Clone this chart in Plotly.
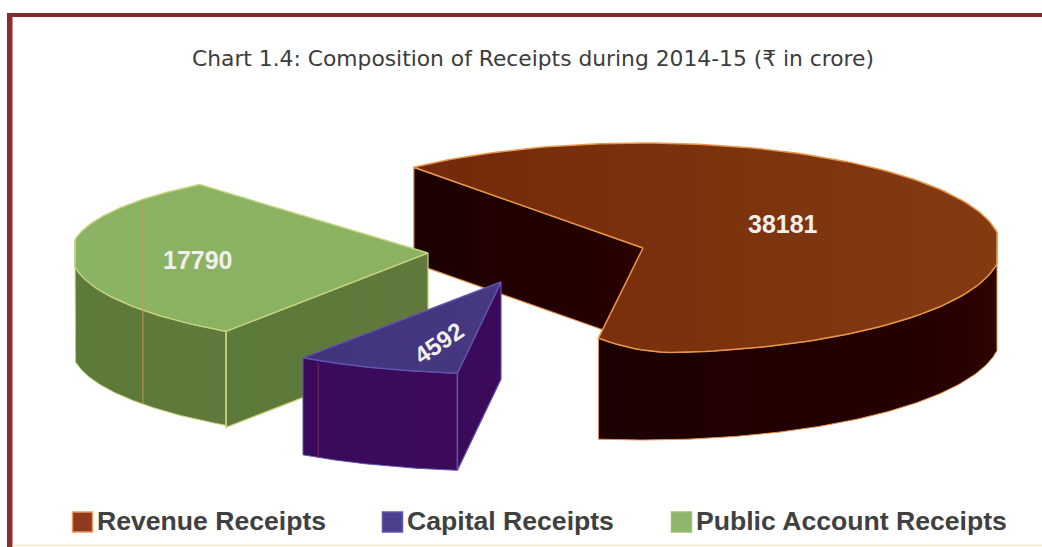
import numpy as np
import plotly.graph_objects as go

# Receipts during 2014-15, in crore of rupees
categories = ["Revenue Receipts", "Capital Receipts", "Public Account Receipts"]
values = [38181, 4592, 17790]

TITLE = "Chart 1.4: Composition of Receipts during 2014-15 (₹ in crore)"
WIDTH, HEIGHT = 1042, 547
FIRST_ANGLE = 129.8  # where the first slice starts, degrees, running clockwise

# Drawing geometry of each exploded slice, in pixel-like axis units
GEOMETRY = {
    "Revenue Receipts": dict(cx=643, cy=248, rx=358, ry_up=105, ry_down=105, wall=96, rim=87,
                             xmin=0, xmax=997, sag=0.135, sag_span=13),
    "Capital Receipts": dict(cx=501, cy=282, rx=350, ry_up=92, ry_down=92, wall=97, rim=97,
                             xmin=0, xmax=2000, sag=0, sag_span=1),
    "Public Account Receipts": dict(cx=428, cy=253, rx=357, ry_up=89, ry_down=95, wall=96, rim=94,
                                    xmin=75, xmax=2000, sag=0, sag_span=1),
}
STYLE = {
    "Revenue Receipts": dict(top=[[0, "#742a0a"], [1, "#843a11"]], wall=[[0, "#1c0000"], [0.9, "#270000"], [1, "#300500"]],
                             edge="#e8964c", swatch="#8f3a1e", swatch_edge="#e59a5a"),
    "Capital Receipts": dict(top=[[0, "#41337f"], [1, "#47397f"]], wall=[[0, "#3a0a5c"], [1, "#3c0a58"]],
                             edge="#5f54ad", swatch="#4e3f8e", swatch_edge="#5f54ad"),
    "Public Account Receipts": dict(top=[[0, "#8ab363"], [1, "#8cb162"]], wall=[[0, "#5c7a39"], [1, "#60793c"]],
                                    edge="#c5d27c", swatch="#8fb56a", swatch_edge="#9dbf78"),
}
LABEL_SPOTS = {
    "Revenue Receipts": dict(x=783, y=224, angle=0, size=25),
    "Capital Receipts": dict(x=438, y=343, angle=-34, size=24),
    "Public Account Receipts": dict(x=198, y=260, angle=0, size=25),
}
LEGEND_SPOTS = {
    "Revenue Receipts": (82.5, 97),
    "Capital Receipts": (392.5, 407),
    "Public Account Receipts": (681.5, 696),
}

# Angular extent of every slice follows from its share of the total
total = sum(values)
spans = {}
start = FIRST_ANGLE
for name, value in zip(categories, values):
    end = start - value / total * 360
    spans[name] = (start, end)
    start = end


def arc(g, t0, t1, drop=0.0, sag=True):
    """Points of a slice rim from angle t0 to t1, lowered by drop."""
    t = np.linspace(t0, t1, 160)
    rad = np.radians(t)
    s = np.sin(rad)
    ry = np.where(s > 0, g["ry_up"], g["ry_down"])
    if sag and g["sag"]:
        frac = np.clip((min(t0, t1) + g["sag_span"] - t) / g["sag_span"], 0, 1)
        ry = ry * (1 - g["sag"] * frac ** 2)
    x = np.clip(g["cx"] + g["rx"] * np.cos(rad), g["xmin"], g["xmax"])
    y = g["cy"] - ry * s + drop
    return x, y


def polygon(fig, x, y, colorscale, edge, width=1.2):
    fig.add_trace(go.Scatter(
        x=list(x) + [x[0]], y=list(y) + [y[0]], mode="lines", fill="toself",
        fillgradient=dict(type="horizontal", colorscale=colorscale),
        line=dict(color=edge, width=width), hoverinfo="skip", showlegend=False,
    ))


def draw_slice(fig, name, wall_range, cut_angles):
    g = GEOMETRY[name]
    st = STYLE[name]
    t0, t1 = spans[name]
    # Straight walls from the centre out to a cut edge
    for angle in cut_angles:
        ax, ay = arc(g, angle, angle, sag=False)
        px, py = float(ax[0]), float(ay[0])
        polygon(fig, [g["cx"], px, px, g["cx"]],
                [g["cy"], py, py + g["wall"], g["cy"] + g["wall"]], st["wall"], st["edge"])
    # Curved outer wall
    tx, ty = arc(g, wall_range[0], wall_range[1], sag=True)
    bx, by = arc(g, wall_range[0], wall_range[1], drop=g["rim"], sag=False)
    polygon(fig, np.r_[tx, bx[::-1]], np.r_[ty, by[::-1]], st["wall"], st["edge"], 1)
    # Top face
    fx, fy = arc(g, t0, t1)
    polygon(fig, np.r_[g["cx"], fx], np.r_[g["cy"], fy], st["top"], st["edge"], 1.5)


fig = go.Figure()

rev_s, rev_e = spans["Revenue Receipts"]
cap_s, cap_e = spans["Capital Receipts"]
pub_s, pub_e = spans["Public Account Receipts"]

draw_slice(fig, "Revenue Receipts", (8, rev_e), [rev_s])
draw_slice(fig, "Public Account Receipts", (pub_s, -188), [pub_s])

# Seam running over the public account slice and down its wall
seam = GEOMETRY["Public Account Receipts"]
seam_x = float(arc(seam, -143, -143)[0][0])
seam_top = float(arc(seam, 143, 143)[1][0])
seam_low = float(arc(seam, -143, -143, drop=seam["rim"])[1][0])
fig.add_trace(go.Scatter(x=[seam_x, seam_x], y=[seam_top, seam_low], mode="lines",
                         line=dict(color="#c49a5a", width=1), hoverinfo="skip", showlegend=False))

draw_slice(fig, "Capital Receipts", (cap_s, cap_e), [cap_s])

# Seam on the capital slice wall
cap = GEOMETRY["Capital Receipts"]
cap_seam = cap_e + 3
cx0 = float(arc(cap, cap_seam, cap_seam)[0][0])
cy0 = float(arc(cap, cap_seam, cap_seam)[1][0])
fig.add_trace(go.Scatter(x=[cx0, cx0], y=[cy0 + 2, cy0 + cap["rim"]], mode="lines",
                         line=dict(color="#6b1e5e", width=1.5), hoverinfo="skip", showlegend=False))

# Near cut edges on top of the walls
for name in ["Public Account Receipts", "Capital Receipts"]:
    g = GEOMETRY[name]
    a = spans[name][0]
    ex = float(arc(g, a, a)[0][0])
    ey = float(arc(g, a, a)[1][0])
    fig.add_trace(go.Scatter(x=[ex, ex], y=[ey, ey + g["wall"]], mode="lines",
                             line=dict(color=STYLE[name]["edge"], width=1.5),
                             hoverinfo="skip", showlegend=False))

# Value labels
annotations = []
for name, value in zip(categories, values):
    spot = LABEL_SPOTS[name]
    annotations.append(dict(
        x=spot["x"], y=spot["y"], xref="x", yref="y", text=str(value), showarrow=False,
        textangle=spot["angle"], xanchor="center", yanchor="middle",
        font=dict(family="Liberation Sans", size=spot["size"], color="#f2f0ee", weight="bold"),
    ))

# Key below the pie
for name in categories:
    sx, tx = LEGEND_SPOTS[name]
    fig.add_trace(go.Scatter(
        x=[sx], y=[522], mode="markers",
        marker=dict(symbol="square", size=20, color=STYLE[name]["swatch"],
                    line=dict(color=STYLE[name]["swatch_edge"], width=1.5)),
        hoverinfo="skip", showlegend=False,
    ))
    fig.add_trace(go.Scatter(
        x=[tx], y=[523], mode="text", text=[name], textposition="middle right",
        textfont=dict(family="Liberation Sans", size=26.6, color="#404040", weight="bold"),
        hoverinfo="skip", showlegend=False,
    ))

# Frame round the chart: heavy on the top and left, faint along the bottom
frame = [
    dict(type="rect", x0=7, x1=WIDTH, y0=13, y1=17, fillcolor="#83282a", line_width=0),
    dict(type="rect", x0=7, x1=12.5, y0=13, y1=HEIGHT, fillcolor="#8a2c30", line_width=0),
    dict(type="rect", x0=12.5, x1=WIDTH, y0=544.5, y1=546, fillcolor="#f4eec4", line_width=0),
]

fig.update_layout(
    width=WIDTH, height=HEIGHT, autosize=False,
    margin=dict(l=0, r=0, t=0, b=0),
    paper_bgcolor="#ffffff", plot_bgcolor="#ffffff",
    title=dict(text=TITLE, x=533 / WIDTH, xanchor="center", y=1 - 58 / HEIGHT, yanchor="middle",
               font=dict(family="DejaVu Sans", size=21.8, color="#3c3c3c")),
    xaxis=dict(range=[0, WIDTH], visible=False, fixedrange=True),
    yaxis=dict(range=[HEIGHT, 0], visible=False, fixedrange=True),
    annotations=annotations, shapes=frame, showlegend=False,
)

fig.write_html("out.html")
